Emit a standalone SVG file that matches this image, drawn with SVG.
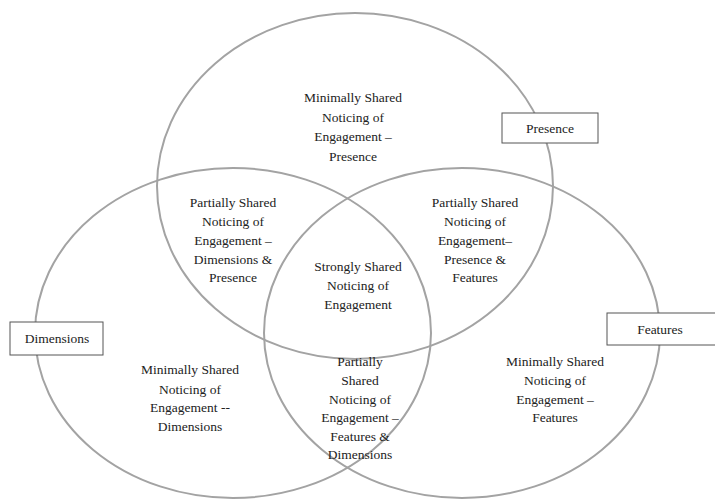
<svg xmlns="http://www.w3.org/2000/svg" width="715" height="502" viewBox="0 0 715 502">
<style>
.c{fill:none;stroke:#a3a3a3;stroke-width:2}
.t{font-family:"Liberation Serif","Times New Roman",serif;font-size:13.5px;fill:#222;text-anchor:middle}
.b{fill:#fff;stroke:#555;stroke-width:1}
</style>
<rect width="715" height="502" fill="#fff"/>
<g id="circles">
<ellipse id="c-presence" class="c" cx="355" cy="186" rx="198" ry="173"/>
<ellipse id="c-dimensions" class="c" cx="233" cy="333" rx="198" ry="165"/>
<ellipse id="c-features" class="c" cx="462" cy="333" rx="198" ry="165"/>
</g>
<g id="min-presence" class="t">
<text x="353" y="102">Minimally Shared</text>
<text x="353" y="122">Noticing of</text>
<text x="353" y="141">Engagement –</text>
<text x="353" y="161">Presence</text>
</g>
<g id="part-dp" class="t">
<text x="233" y="207">Partially Shared</text>
<text x="233" y="226">Noticing of</text>
<text x="233" y="245">Engagement –</text>
<text x="233" y="264">Dimensions &amp;</text>
<text x="233" y="282">Presence</text>
</g>
<g id="part-pf" class="t">
<text x="475" y="207">Partially Shared</text>
<text x="475" y="226">Noticing of</text>
<text x="475" y="245">Engagement–</text>
<text x="475" y="264">Presence &amp;</text>
<text x="475" y="282">Features</text>
</g>
<g id="strong" class="t">
<text x="358" y="271">Strongly Shared</text>
<text x="358" y="290">Noticing of</text>
<text x="358" y="309">Engagement</text>
</g>
<g id="part-fd" class="t">
<text x="360" y="366">Partially</text>
<text x="360" y="385">Shared</text>
<text x="360" y="404">Noticing of</text>
<text x="360" y="422">Engagement –</text>
<text x="360" y="441">Features &amp;</text>
<text x="360" y="459">Dimensions</text>
</g>
<g id="min-dimensions" class="t">
<text x="190" y="374">Minimally Shared</text>
<text x="190" y="394">Noticing of</text>
<text x="190" y="412">Engagement --</text>
<text x="190" y="431">Dimensions</text>
</g>
<g id="min-features" class="t">
<text x="555" y="366">Minimally Shared</text>
<text x="555" y="385">Noticing of</text>
<text x="555" y="404">Engagement –</text>
<text x="555" y="422">Features</text>
</g>
<g id="label-presence">
<rect class="b" x="502" y="113" width="96" height="30"/>
<text class="t" x="550" y="133">Presence</text>
</g>
<g id="label-dimensions">
<rect class="b" x="10" y="322" width="93" height="33"/>
<text class="t" x="57" y="343">Dimensions</text>
</g>
<g id="label-features">
<rect class="b" x="607" y="313" width="110" height="32"/>
<text class="t" x="660" y="334">Features</text>
</g>
</svg>
